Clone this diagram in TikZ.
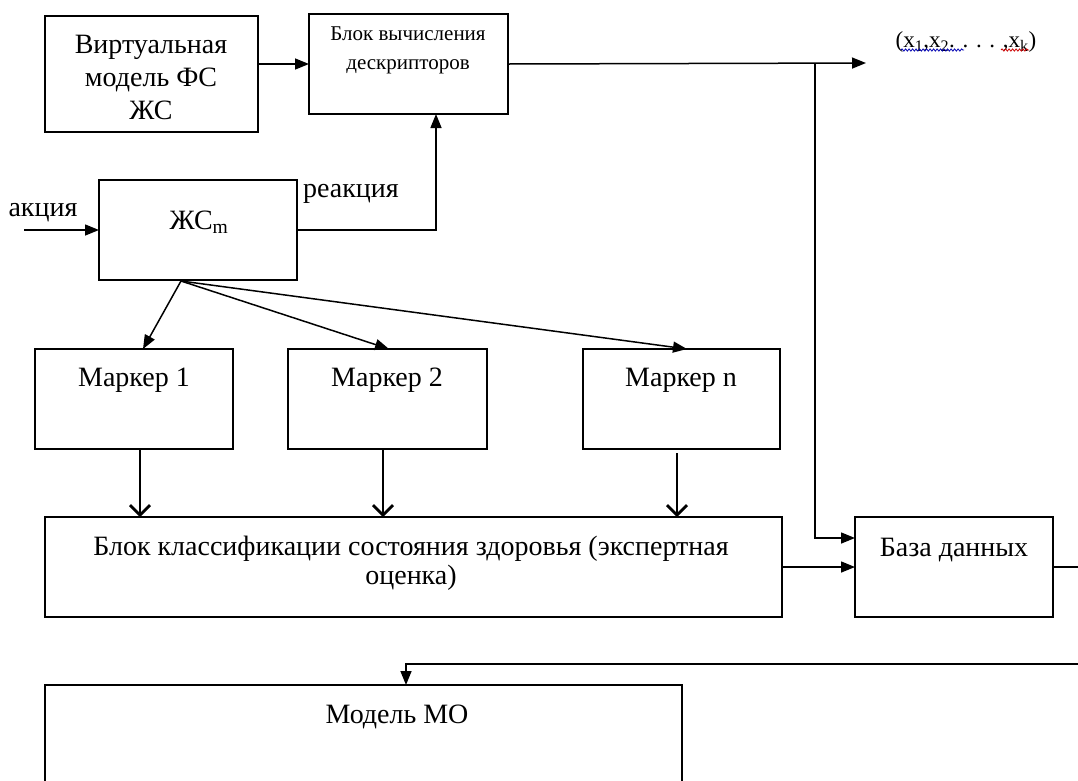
\documentclass[tikz,border=0pt]{standalone}
\usepackage{fontspec}
\setmainfont{Liberation Serif}
\usetikzlibrary{arrows.meta,decorations.pathmorphing}
\begin{document}
\begin{tikzpicture}[x=1pt,y=-1pt,
  blk/.style={draw, line width=1.5pt, inner sep=0pt, outer sep=0pt, anchor=north west},
  txt/.style={font=\fontsize{28}{33}\selectfont, inner sep=0pt, align=center},
  smalltxt/.style={font=\fontsize{21}{29}\selectfont, inner sep=0pt, align=center},
  ln/.style={line width=1.5pt},
  arr/.style={line width=1.5pt, -{Triangle[length=14pt,width=11pt]}},
  thk/.style={line width=2.8pt, -{Straight Barb[length=10pt,width=20pt]}},
  wavy/.style={line width=0.8pt, decorate, decoration={snake, amplitude=1.1pt, segment length=3.5pt}}]
\useasboundingbox (0,0) rectangle (1078,780);
\clip (0,0) rectangle (1078,780);
\fill[white] (0,0) rectangle (1078,780);

% boxes
\node[blk, minimum width=213pt, minimum height=116pt] (virt) at (45,16) {};
\node[blk, minimum width=199pt, minimum height=100pt] (desc) at (309,14) {};
\node[blk, minimum width=198pt, minimum height=100pt] (zhs) at (99,180) {};
\node[blk, minimum width=198pt, minimum height=100pt] (m1) at (35,349) {};
\node[blk, minimum width=199pt, minimum height=100pt] (m2) at (288,349) {};
\node[blk, minimum width=197pt, minimum height=100pt] (mn) at (583,349) {};
\node[blk, minimum width=737pt, minimum height=100pt] (cls) at (45,517) {};
\node[blk, minimum width=198pt, minimum height=100pt] (db) at (855,517) {};
\node[blk, minimum width=637pt, minimum height=200pt] (mo) at (45,685) {};

% texts
\node[txt] (virtT) at (151,77) {Виртуальная\\модель ФС\\ЖС};
\node[smalltxt] (descT) at (408,50) {Блок вычисления\\дескрипторов};
\node[txt] (zhsT) at (199,222) {ЖС\textsubscript{m}};
\node[txt] (m1T) at (134,380) {Маркер 1};
\node[txt] (m2T) at (387,380) {Маркер 2};
\node[txt] (mnT) at (681,380) {Маркер n};
\node[txt, font=\fontsize{28}{29}\selectfont] (clsT) at (411,563) {Блок классификации состояния здоровья (экспертная\\оценка)};
\node[txt] (dbT) at (954,550) {База данных};
\node[txt] (moT) at (397,717) {Модель МО};
\node[txt] (akT) at (43,213) {акция};
\node[txt] (reT) at (351,194) {реакция};
\node[smalltxt, font=\fontsize{23}{29}\selectfont] (xT) at (966,42) {(x\textsubscript{1},x\textsubscript{2}. . . . ,x\textsubscript{k})};

% coordinates
\coordinate (akIn) at (24,230);
\coordinate (descIn) at (436,114);
\coordinate (xOut) at (866,63);
\coordinate (br) at (815,63);
\coordinate (dbIn) at (855,538);
\coordinate (dbOut) at (1078,567);
\coordinate (ret) at (1078,664);
\coordinate (moIn) at (406,685);
\coordinate (fan) at (181,281);
\coordinate (m1In) at (143,349);
\coordinate (m2In) at (389,349);
\coordinate (mnIn) at (687,349);
\coordinate (m1Out) at (140,449);
\coordinate (m2Out) at (383,449);
\coordinate (mnOut) at (677,453);
\coordinate (c1) at (140,517);
\coordinate (c2) at (383,517);
\coordinate (c3) at (677,517);
\coordinate (w1a) at (901,50);
\coordinate (w1b) at (964,50);
\coordinate (w2a) at (1001,50);
\coordinate (w2b) at (1029,50);

% connectors
\draw[arr] (virt.east |- desc.west) -- (desc.west);
\draw[arr] (desc.east) -- (xOut);
\draw[arr] (br) |- (dbIn);
\draw[arr] (akIn) -- (zhs.west);
\draw[arr] (zhs.east) -| (descIn);
\draw[arr] (fan) -- (m1In);
\draw[arr] (fan) -- (m2In);
\draw[arr] (fan) -- (mnIn);
\draw[thk] (m1Out) -- (c1);
\draw[thk] (m2Out) -- (c2);
\draw[thk] (mnOut) -- (c3);
\draw[arr] (cls.east) -- (db.west);
\draw[ln] (db.east) -- (dbOut);
\draw[arr] (ret) -| (moIn);

% spell-check underlines
\draw[wavy, blue!70!black] (w1a) -- (w1b);
\draw[wavy, red!80!black] (w2a) -- (w2b);
\end{tikzpicture}
\end{document}
